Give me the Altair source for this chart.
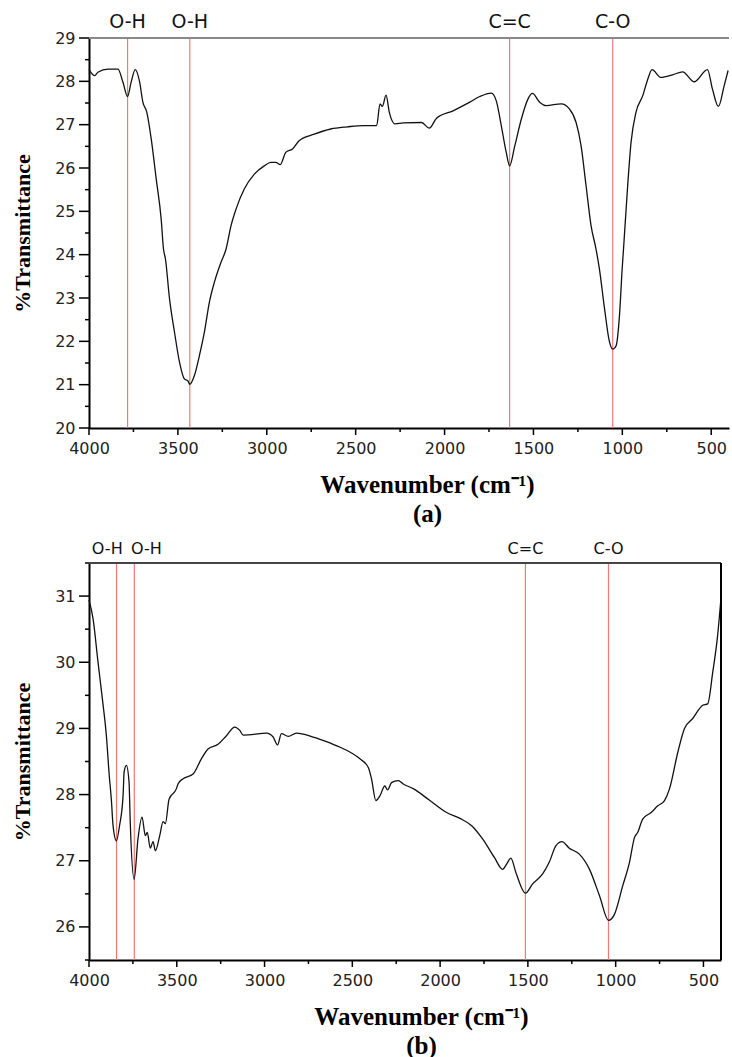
import altair as alt
import pandas as pd

# ---------------- data: panel (a) ----------------
wn_a = [4000, 3968, 3950, 3893, 3837, 3809, 3783, 3763, 3740, 3715, 3697, 3675, 3650, 3622,
        3594, 3581, 3570, 3547, 3519, 3491, 3463, 3444, 3433, 3407, 3379, 3351, 3323, 3295,
        3258, 3229, 3201, 3173, 3126, 3070, 3014, 2977, 2949, 2924, 2893, 2855, 2818, 2733,
        2640, 2547, 2457, 2382, 2363, 2350, 2329, 2311, 2279, 2232, 2129, 2086, 2045, 1952,
        1858, 1802, 1737, 1709, 1681, 1653, 1634, 1605, 1568, 1531, 1506, 1465, 1428, 1344,
        1297, 1260, 1232, 1204, 1176, 1148, 1129, 1100, 1072, 1054, 1035, 1016, 1001, 992,
        970, 951, 923, 885, 857, 833, 783, 717, 661, 595, 521, 493, 460, 427, 405]
t_a = [28.27, 28.13, 28.21, 28.28, 28.28, 27.98, 27.65, 27.98, 28.27, 27.98, 27.52, 27.29, 26.67, 25.75,
       24.82, 24.13, 23.90, 22.98, 22.21, 21.52, 21.13, 21.09, 21.01, 21.21, 21.67, 22.21, 22.90, 23.36,
       23.82, 24.13, 24.67, 25.05, 25.52, 25.86, 26.05, 26.13, 26.13, 26.08, 26.36, 26.44, 26.63, 26.78,
       26.90, 26.95, 26.98, 26.98, 27.48, 27.42, 27.68, 27.29, 27.02, 27.04, 27.05, 26.92, 27.15, 27.32,
       27.52, 27.65, 27.73, 27.55, 26.98, 26.36, 26.05, 26.51, 27.13, 27.59, 27.72, 27.52, 27.44, 27.48,
       27.36, 27.05, 26.51, 25.59, 24.67, 24.13, 23.67, 22.75, 21.98, 21.82, 21.90, 22.60, 23.67, 24.21,
       25.59, 26.59, 27.29, 27.67, 28.05, 28.27, 28.09, 28.15, 28.22, 27.99, 28.27, 27.82, 27.42, 27.90, 28.25]
peaks_a = [3783, 3433, 1634, 1054]
label_pos_a = [3783, 3433, 1634, 1054]
labels_a = ["O-H", "O-H", "C=C", "C-O"]

# ---------------- data: panel (b) ----------------
wn_b = [4000, 3977, 3949, 3924, 3901, 3885, 3872, 3863, 3844, 3826, 3806, 3800, 3787, 3772,
        3765, 3743, 3721, 3698, 3679, 3668, 3651, 3635, 3622, 3597, 3578, 3565, 3544, 3502,
        3493, 3464, 3407, 3360, 3322, 3265, 3217, 3170, 3141, 3122, 3027, 2989, 2951, 2926,
        2904, 2865, 2818, 2723, 2628, 2533, 2457, 2409, 2391, 2366, 2343, 2315, 2299, 2277,
        2238, 2210, 2153, 2058, 1963, 1887, 1820, 1758, 1691, 1644, 1621, 1597, 1568, 1514,
        1473, 1416, 1378, 1340, 1306, 1264, 1207, 1149, 1092, 1041, 1007, 960, 921, 893,
        874, 846, 798, 760, 722, 693, 646, 608, 561, 504, 476, 447, 419, 400]
t_b = [30.94, 30.66, 30.01, 29.45, 28.89, 28.30, 27.90, 27.53, 27.30, 27.53, 27.98, 28.34, 28.44, 28.19,
       27.58, 26.72, 27.33, 27.66, 27.38, 27.43, 27.19, 27.29, 27.15, 27.38, 27.59, 27.56, 27.93, 28.09,
       28.16, 28.24, 28.31, 28.54, 28.69, 28.76, 28.89, 29.02, 28.97, 28.90, 28.92, 28.93, 28.87, 28.75,
       28.92, 28.88, 28.93, 28.87, 28.78, 28.67, 28.54, 28.41, 28.24, 27.91, 27.98, 28.13, 28.07, 28.18,
       28.21, 28.16, 28.09, 27.91, 27.73, 27.64, 27.53, 27.33, 27.05, 26.87, 26.95, 27.04, 26.82, 26.51,
       26.65, 26.80, 26.98, 27.23, 27.29, 27.19, 27.10, 26.87, 26.47, 26.10, 26.19, 26.62, 26.98, 27.35,
       27.43, 27.63, 27.73, 27.83, 27.91, 28.09, 28.64, 29.00, 29.15, 29.35, 29.37, 29.85, 30.41, 30.97]
peaks_b = [3843, 3742, 1514, 1041]
label_pos_b = [3896, 3673, 1514, 1041]
labels_b = ["O-H", "O-H", "C=C", "C-O"]

# tick positions
x_major = [500, 1000, 1500, 2000, 2500, 3000, 3500, 4000]
x_minor = [750, 1250, 1750, 2250, 2750, 3250, 3750]
y_major_a = [20, 21, 22, 23, 24, 25, 26, 27, 28, 29]
y_minor_a = [20.5, 21.5, 22.5, 23.5, 24.5, 25.5, 26.5, 27.5, 28.5]
y_major_b = [26, 27, 28, 29, 30, 31]
y_minor_b = [25.5, 26.5, 27.5, 28.5, 29.5, 30.5, 31.5]

SERIF = "Liberation Serif"
SANS = "DejaVu Sans"


def panel(wn, t, peaks, lab_pos, labels, ydom, y_major, y_minor, width, height,
          lab_size, lab_dy, title_lines, title_shift, top_color, right_border):
    df = pd.DataFrame({"wn": wn, "t": t})
    dpk = pd.DataFrame({"wn": peaks})
    dlab = pd.DataFrame({"pos": lab_pos, "lab": labels})
    dxm = pd.DataFrame({"xm": [float(v) for v in x_minor]})
    dxM = pd.DataFrame({"xM": [float(v) for v in x_major]})
    dym = pd.DataFrame({"ym": [float(v) for v in y_minor]})
    dyM = pd.DataFrame({"yM": [float(v) for v in y_major]})

    xscale = alt.Scale(domain=[400, 4000], reverse=True, nice=False, zero=False)
    yscale = alt.Scale(domain=ydom, nice=False, zero=False)

    xaxis = alt.Axis(
        values=x_major, format="d", ticks=False, tickSize=0,
        labelPadding=12, labelFont=SANS, labelFontSize=16, labelColor="#222",
        labelOverlap=False, labelFlush=False,
        domainColor="black", domainWidth=2,
        grid=False, title=title_lines, titleFont=SERIF, titleFontWeight="bold",
        titleFontSize=25, titleColor="black", titlePadding=16, titleLineHeight=29,
        titleX=width / 2 + title_shift,
    )
    yaxis = alt.Axis(
        values=y_major, format="d", ticks=False, tickSize=0,
        labelPadding=14, labelFont=SANS, labelFontSize=16, labelColor="#222",
        labelOverlap=False, labelFlush=False,
        domainColor="black", domainWidth=2,
        grid=False, title="%Transmittance", titleFont=SERIF, titleFontWeight="bold",
        titleFontSize=22, titleColor="black", titlePadding=20,
    )

    X = lambda f: alt.X(f, scale=xscale, axis=xaxis)
    Y = lambda f: alt.Y(f, scale=yscale, axis=yaxis)

    rules = alt.Chart(dpk).mark_rule(color="#f07878", strokeWidth=1.2).encode(x=X("wn:Q"))
    line = alt.Chart(df).mark_line(color="#111", strokeWidth=1.3, interpolate="monotone").encode(
        x=X("wn:Q"), y=Y("t:Q"),
    )
    text = alt.Chart(dlab).mark_text(
        font=SANS, fontSize=lab_size, color="#111", dy=lab_dy, baseline="middle"
    ).encode(
        x=X("pos:Q"),
        y=alt.YDatum(ydom[1], scale=yscale, axis=yaxis),
        text="lab:N",
    )
    top = alt.Chart(dlab).mark_rule(color=top_color, strokeWidth=1.6).encode(
        y=alt.YDatum(ydom[1], scale=yscale, axis=yaxis)
    )
    # minor / major tick marks drawn outside the plot area
    xminor = alt.Chart(dxm).mark_tick(color="black", thickness=1.5, size=4, orient="vertical",
                                      opacity=1).encode(
        x=X("xm:Q"), y=alt.value(height + 2)
    )
    xmajor = alt.Chart(dxM).mark_tick(color="black", thickness=1.5, size=7, orient="vertical",
                                      opacity=1).encode(
        x=X("xM:Q"), y=alt.value(height + 3.5)
    )
    yminor = alt.Chart(dym).mark_tick(color="black", thickness=1.5, size=4, orient="horizontal",
                                      opacity=1).encode(
        y=Y("ym:Q"), x=alt.value(-2)
    )
    ymajor = alt.Chart(dyM).mark_tick(color="black", thickness=1.5, size=10, orient="horizontal",
                                      opacity=1).encode(
        y=Y("yM:Q"), x=alt.value(-5)
    )
    layers = [rules, line, top, text, xminor, xmajor, yminor, ymajor]
    if right_border:
        right = alt.Chart(dlab).mark_rule(color="black", strokeWidth=1.6).encode(
            x=alt.XDatum(400, scale=xscale, axis=xaxis)
        )
        layers.append(right)
    return alt.layer(*layers).properties(width=width, height=height)


pa = panel(wn_a, t_a, peaks_a, label_pos_a, labels_a, [20, 29], y_major_a, y_minor_a, 640, 390,
           19, -16, ["Wavenumber (cm⁻¹)", "(a)"], 18, "#888", False)
pb = panel(wn_b, t_b, peaks_b, label_pos_b, labels_b, [25.5, 31.5], y_major_b, y_minor_b, 632, 397,
           16, -14, ["Wavenumber (cm⁻¹)", "(b)"], 16, "#444", True)

chart = alt.vconcat(pa, pb, spacing=15).properties(
    padding={"left": 11, "top": 13, "right": 0, "bottom": 0},
    background="white",
).configure_view(stroke=None)

chart.save("out.html", embed_options={"renderer": "svg", "actions": False})
